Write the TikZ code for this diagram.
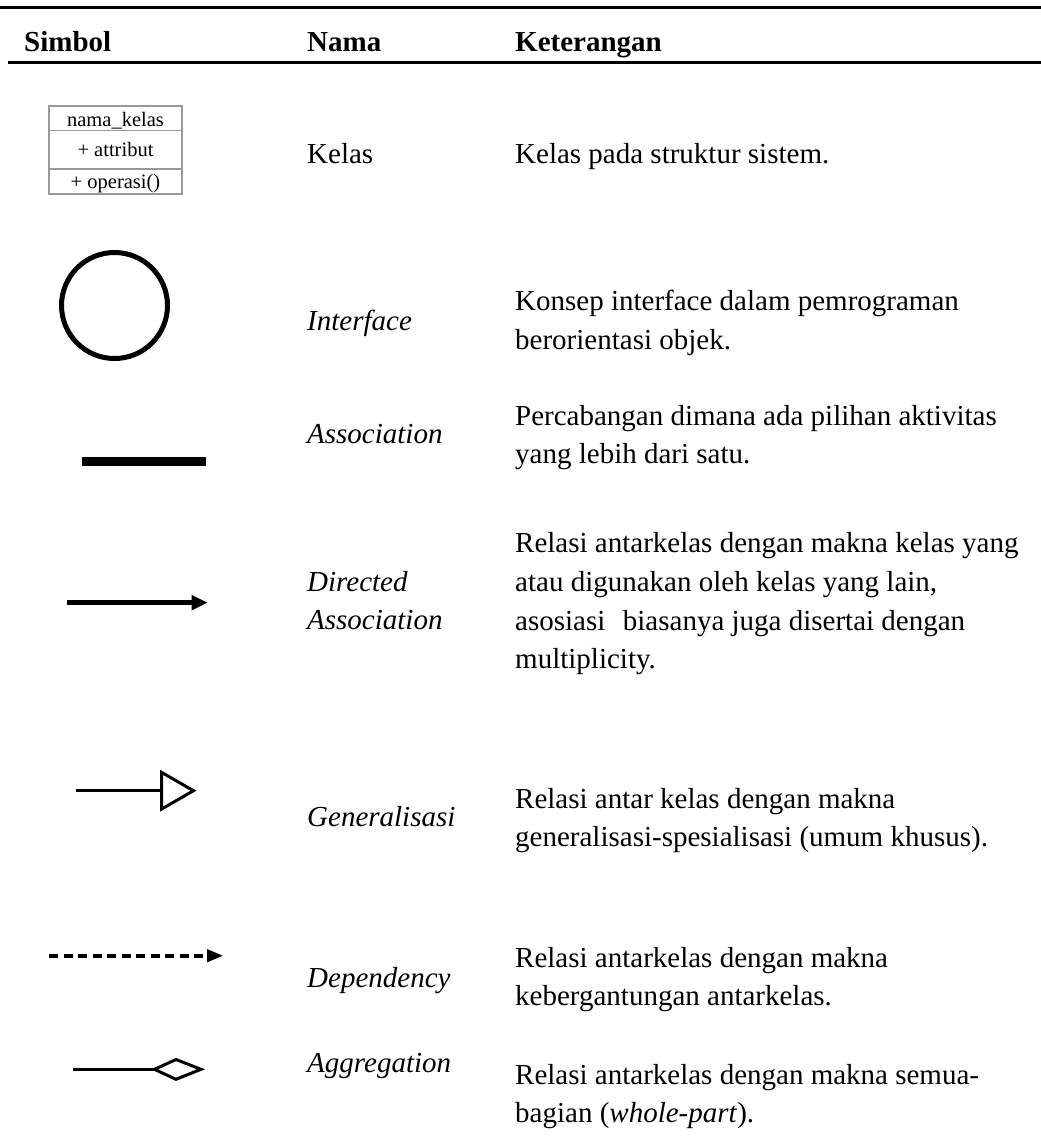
\documentclass[tikz,border=0pt]{standalone}
\usepackage{fontspec}
\setmainfont{Liberation Serif}
% stacked lines with a fixed baseline distance; the box baseline is the first line
\newcommand\cellrows[1]{\vtop{\baselineskip=38.5pt\lineskiplimit=-100pt\lineskip=0pt #1}}

\begin{document}
\begin{tikzpicture}[x=1pt,y=-1pt,
  txt/.style={anchor=base west, inner sep=0pt, font=\fontsize{29}{38.5}\selectfont},
  hdr/.style={txt, font=\fontsize{29}{38.5}\selectfont\bfseries},
  nm/.style={txt, font=\fontsize{29}{38.5}\selectfont\itshape},
  tablerule/.style={line width=2.7pt},
  classline/.style={draw=black!40, line width=1.4pt},
  clstext/.style={anchor=base, inner sep=0pt, font=\fontsize{20.5}{24}\selectfont},
  symline/.style={line width=3pt},
]
\useasboundingbox (0,0) rectangle (1041,1144);
\fill[white] (0,0) rectangle (1041,1144);

% table rules
\coordinate (topL) at (0,7.3);   \coordinate (topR) at (1041,7.3);
\coordinate (midL) at (8,62.7);  \coordinate (midR) at (1041,62.7);
\draw[tablerule] (topL) -- (topR);
\draw[tablerule] (midL) -- (midR);

% header
\node[hdr] (hSimbol) at (24,51.5) {Simbol};
\node[hdr] (hNama) at (307,51.5) {Nama};
\node[hdr] (hKet) at (515,51.5) {Keterangan};

% class symbol
\draw[classline] (49,106) rectangle (182,194);
\draw[classline] (49,130.7) -- (182,130.7);
\draw[classline] (49,169) -- (182,169);
\node[clstext] (cName) at (115.5,126) {nama\_kelas};
\node[clstext] (cAttr) at (115.5,156) {+ attribut};
\node[clstext] (cOper) at (115.5,188) {+ operasi()};

% interface symbol
\draw[line width=5pt] (114.5,305.5) circle[radius=53pt];

% association symbol
\fill (81.7,457.3) rectangle (206,466);

% directed association symbol
\coordinate (daS) at (67.3,602.7); \coordinate (daE) at (193,602.7);
\draw[line width=5pt] (daS) -- (daE);
\fill (191.7,594.9) -- (207.3,602.7) -- (191.7,610.5) -- cycle;

% generalization symbol
\coordinate (geS) at (76,790.7); \coordinate (geE) at (161.5,790.7);
\draw[symline] (geS) -- (geE);
\draw[symline, fill=white, line join=miter] (161.5,772.3) -- (193.5,790.7) -- (161.5,809.1) -- cycle;

% dependency symbol
\coordinate (deS) at (49,955.7); \coordinate (deE) at (208,955.7);
\draw[line width=4pt, dash pattern=on 9pt off 5.5pt] (deS) -- (deE);
\fill (207,949) -- (222.7,955.7) -- (207,962.4) -- cycle;

% aggregation symbol
\coordinate (agS) at (73.3,1069.3); \coordinate (agE) at (154.5,1069.3);
\draw[symline] (agS) -- (agE);
\draw[symline, fill=white, line join=miter] (154.5,1069.3) -- (176,1059.5) -- (201,1069.3) -- (176,1079.3) -- cycle;

% names
\node[txt] (nKelas) at (307,163) {Kelas};
\node[nm] (nInterface) at (307,330) {Interface};
\node[nm] (nAssoc) at (307,443) {Association};
\node[nm] (nDirected) at (307,591) {\cellrows{\hbox{Directed}\hbox{Association}}};
\node[nm] (nGen) at (307,826.5) {Generalisasi};
\node[nm] (nDep) at (307,987) {Dependency};
\node[nm] (nAgg) at (307,1072) {Aggregation};

% descriptions
\node[txt] (dKelas) at (515,163) {Kelas pada struktur sistem.};
\node[txt] (dInterface) at (515,310.5) {\cellrows{\hbox{Konsep interface dalam pemrograman}\hbox{berorientasi objek.}}};
\node[txt] (dAssoc) at (515,425) {\cellrows{\hbox{Percabangan dimana ada pilihan aktivitas}\hbox{yang lebih dari satu.}}};
\node[txt] (dDirected) at (515,552.5) {\cellrows{\baselineskip=38.8pt
  \hbox{Relasi antarkelas dengan makna kelas yang}
  \hbox{atau digunakan oleh kelas yang lain,}
  \hbox{asosiasi\hspace{17.5pt}biasanya juga disertai dengan}
  \hbox{multiplicity.}}};
\node[txt] (dGen) at (515,808.5) {\cellrows{\baselineskip=37.8pt\hbox{Relasi antar kelas dengan makna}\hbox{generalisasi-spesialisasi (umum khusus).}}};
\node[txt] (dDep) at (515,967) {\cellrows{\hbox{Relasi antarkelas dengan makna}\hbox{kebergantungan antarkelas.}}};
\node[txt] (dAgg) at (515,1084) {\cellrows{\hbox{Relasi antarkelas dengan makna semua-}\hbox{bagian (\textit{whole-part}).}}};
\end{tikzpicture}
\end{document}
